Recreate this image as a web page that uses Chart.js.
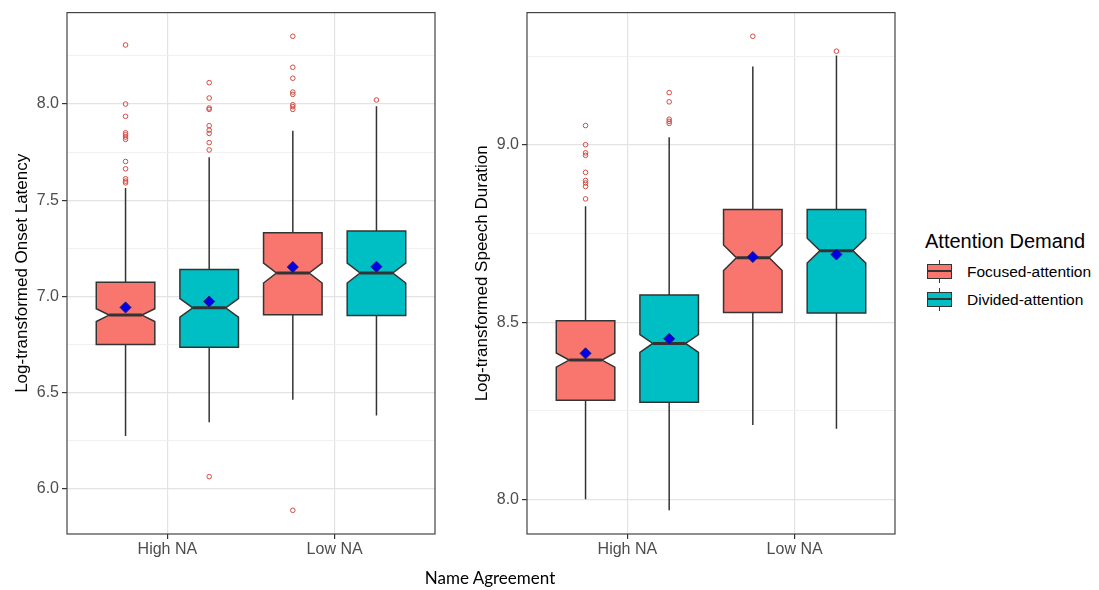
<!DOCTYPE html>
<html>
<head>
<meta charset="utf-8">
<script src="https://cdn.jsdelivr.net/npm/chart.js@4.4.1/dist/chart.umd.min.js"></script>
<style>
  html, body { margin: 0; padding: 0; background: #fff; }
  #wrap { position: relative; width: 1099px; height: 590px; overflow: hidden;
          font-family: "Liberation Sans", Arial, sans-serif; }
  canvas { position: absolute; top: 0; }
  #onset { left: 0; }
  #speech { left: 460px; }
  #xtitle { position: absolute; left: 370px; width: 240px; top: 567px; text-align: center;
            font-family: Lato, "Open Sans", sans-serif; font-size: 17px; line-height: 22px; color: #000; }
  #legend-title { position: absolute; left: 925px; top: 229px; font-size: 20px; line-height: 24px; color: #000; white-space: nowrap; }
  .key { position: absolute; left: 927px; width: 25px; height: 15px; box-sizing: border-box; border: 1.4px solid #333; }
  .key .med { position: absolute; left: 0; right: 0; top: 5.3px; height: 2px; background: #333; }
  .stub { position: absolute; left: 939px; width: 1.4px; height: 4px; background: #333; }
  .key-label { position: absolute; left: 967px; font-size: 15.5px; line-height: 18px; color: #000; white-space: nowrap; }
</style>
</head>
<body>
<div id="wrap">
  <canvas id="onset" width="445" height="590"></canvas>
  <canvas id="speech" width="445" height="590"></canvas>
  <div id="xtitle">Name Agreement</div>
  <div id="legend-title">Attention Demand</div>
</div>
<script>
// ---- data ----
const categories = ['High NA', 'Low NA'];
const groups = ['Focused-attention', 'Divided-attention'];
const groupColors = ['#F8766D', '#00BFC4'];

// Onset latency: [lower whisker, Q1, median, Q3, upper whisker] for each category
const onsetFocused = [[6.273, 6.749, 6.902, 7.073, 7.563], [6.462, 6.904, 7.121, 7.331, 7.861]];
const onsetDivided = [[6.345, 6.735, 6.940, 7.139, 7.723], [6.380, 6.900, 7.121, 7.340, 7.988]];
const onsetFocusedNotch = [0.033, 0.052];
const onsetDividedNotch = [0.048, 0.052];
const onsetFocusedMean = [6.942, 7.152];
const onsetDividedMean = [6.973, 7.154];
const onsetFocusedOutliers = [
  [8.307, 8.000, 7.936, 7.850, 7.840, 7.828, 7.816, 7.701, 7.663, 7.611, 7.599, 7.590],
  [8.352, 8.191, 8.134, 8.062, 8.050, 7.996, 7.986, 7.972, 5.887]
];
const onsetDividedOutliers = [
  [8.111, 8.031, 7.979, 7.972, 7.887, 7.864, 7.847, 7.799, 7.761, 6.062],
  [8.021]
];

// Speech duration: [lower whisker, Q1, median, Q3, upper whisker] for each category
const speechFocused = [[8.000, 8.280, 8.393, 8.504, 8.827], [8.210, 8.527, 8.682, 8.818, 9.222]];
const speechDivided = [[7.969, 8.274, 8.440, 8.577, 9.022], [8.199, 8.526, 8.702, 8.818, 9.253]];
const speechFocusedNotch = [0.020, 0.036];
const speechDividedNotch = [0.025, 0.035];
const speechFocusedMean = [8.412, 8.684];
const speechDividedMean = [8.453, 8.691];
const speechFocusedOutliers = [
  [9.055, 9.001, 8.978, 8.971, 8.923, 8.900, 8.893, 8.883, 8.848],
  [9.307]
];
const speechDividedOutliers = [
  [9.148, 9.122, 9.073, 9.067, 9.061],
  [9.265]
];

// ---- layout constants ----
const DODGE = [-0.25, 0.25];     // group offsets within a category
const BOX_WIDTH = 0.35;          // in category units
const NOTCH_DEPTH = 0.22;        // inward notch depth as a fraction of box width
const FONT = '"Liberation Sans", Arial, sans-serif';

const notchedBoxPlugin = {
  id: 'notchedBoxes',
  beforeDatasetsDraw(chart, args, opts) {
    const { ctx, chartArea, scales: { x, y } } = chart;
    ctx.save();
    ctx.beginPath();
    ctx.rect(chartArea.left, chartArea.top, chartArea.width, chartArea.height);
    ctx.clip();
    opts.boxes.forEach(b => {
      const cx = x.getPixelForValue(b.pos);
      const hw = Math.abs(x.getPixelForValue(b.pos + BOX_WIDTH / 2) - cx);
      const inner = hw * (1 - 2 * NOTCH_DEPTH);
      const [lo, q1, med, q3, hi] = b.stats.map(v => y.getPixelForValue(v));
      const nUp = y.getPixelForValue(b.stats[2] + b.notch);
      const nDn = y.getPixelForValue(b.stats[2] - b.notch);
      ctx.strokeStyle = '#333';
      ctx.lineWidth = 1.5;
      ctx.beginPath();
      ctx.moveTo(cx, q3); ctx.lineTo(cx, hi);
      ctx.moveTo(cx, q1); ctx.lineTo(cx, lo);
      ctx.stroke();
      ctx.beginPath();
      ctx.moveTo(cx - hw, q3); ctx.lineTo(cx + hw, q3);
      ctx.lineTo(cx + hw, nUp); ctx.lineTo(cx + inner, med); ctx.lineTo(cx + hw, nDn);
      ctx.lineTo(cx + hw, q1); ctx.lineTo(cx - hw, q1);
      ctx.lineTo(cx - hw, nDn); ctx.lineTo(cx - inner, med); ctx.lineTo(cx - hw, nUp);
      ctx.closePath();
      ctx.fillStyle = b.color;
      ctx.fill();
      ctx.lineWidth = 1.5;
      ctx.lineJoin = 'miter';
      ctx.stroke();
      ctx.lineWidth = 3;
      ctx.beginPath();
      ctx.moveTo(cx - inner, med); ctx.lineTo(cx + inner, med);
      ctx.stroke();
    });
    ctx.restore();
  },
  afterDatasetsDraw(chart) {
    const { ctx, chartArea } = chart;
    ctx.save();
    ctx.strokeStyle = '#444';
    ctx.lineWidth = 1.2;
    ctx.strokeRect(chartArea.left, chartArea.top, chartArea.width, chartArea.height);
    ctx.restore();
  }
};

const isMajor = v => Math.abs(v * 2 - Math.round(v * 2)) < 1e-6;

function makePanel(canvasId, yTitle, stats, notches, means, outliers) {
  const allValues = [];
  stats.forEach(g => g.forEach(s => allValues.push(s[0], s[4])));
  outliers.forEach(g => g.forEach(c => allValues.push(...c)));
  const lo = Math.min(...allValues), hi = Math.max(...allValues);
  const pad = (hi - lo) * 0.05;

  const boxes = [];
  stats.forEach((g, gi) => g.forEach((s, ci) => {
    boxes.push({ pos: ci + 1 + DODGE[gi], stats: s, notch: notches[gi][ci], color: groupColors[gi] });
  }));

  const datasets = [];
  means.forEach((g, gi) => datasets.push({
    label: groups[gi] + ' mean',
    data: g.map((m, ci) => ({ x: ci + 1 + DODGE[gi], y: m })),
    pointStyle: 'rectRot', pointRadius: 5.5,
    backgroundColor: '#0000e6', borderColor: '#1a1a70', borderWidth: 1
  }));
  outliers.forEach((g, gi) => datasets.push({
    label: groups[gi] + ' outliers',
    data: g.flatMap((vals, ci) => vals.map(v => ({ x: ci + 1 + DODGE[gi], y: v }))),
    pointStyle: 'circle', pointRadius: 2.3,
    backgroundColor: 'rgba(0,0,0,0)', borderColor: '#d24a44', borderWidth: 1
  }));

  return new Chart(document.getElementById(canvasId), {
    type: 'scatter',
    data: { datasets },
    plugins: [notchedBoxPlugin],
    options: {
      responsive: false,
      animation: false,
      events: [],
      layout: { padding: { top: 10, right: 10, left: 0, bottom: 0 } },
      plugins: {
        legend: { display: false },
        tooltip: { enabled: false },
        notchedBoxes: { boxes }
      },
      scales: {
        x: {
          type: 'linear', min: 0.4, max: 2.6,
          afterBuildTicks: s => { s.ticks = categories.map((c, i) => ({ value: i + 1 })); },
          afterFit: s => { s.height = 56; },
          border: { display: false },
          grid: { color: '#e3e3e3', lineWidth: 1.2, tickColor: '#333', tickLength: 5 },
          ticks: {
            autoSkip: false, maxRotation: 0, padding: 1,
            color: '#4d4d4d', font: { family: FONT, size: 16 },
            callback: v => categories[Math.round(v) - 1]
          }
        },
        y: {
          type: 'linear', min: lo - pad, max: hi + pad,
          afterBuildTicks: s => {
            const t = [];
            for (let v = Math.ceil(s.min * 4) / 4; v <= s.max + 1e-9; v += 0.25) t.push({ value: Math.round(v * 100) / 100 });
            s.ticks = t;
          },
          afterFit: s => { s.width = 67; },
          border: { display: false },
          grid: {
            color: c => (c.tick && isMajor(c.tick.value)) ? '#e3e3e3' : '#efefef',
            lineWidth: c => (c.tick && isMajor(c.tick.value)) ? 1.2 : 0.9,
            tickColor: c => (c.tick && isMajor(c.tick.value)) ? '#333' : 'rgba(0,0,0,0)',
            tickLength: 5
          },
          ticks: {
            autoSkip: false, padding: 3,
            color: '#4d4d4d', font: { family: FONT, size: 16 },
            callback: v => isMajor(v) ? v.toFixed(1) : ''
          },
          title: {
            display: true, text: yTitle, color: '#000',
            font: { family: FONT, size: 17 }, padding: { top: 12, bottom: 0 }
          }
        }
      }
    }
  });
}

makePanel('onset', 'Log-transformed Onset Latency',
  [onsetFocused, onsetDivided], [onsetFocusedNotch, onsetDividedNotch],
  [onsetFocusedMean, onsetDividedMean], [onsetFocusedOutliers, onsetDividedOutliers]);

makePanel('speech', 'Log-transformed Speech Duration',
  [speechFocused, speechDivided], [speechFocusedNotch, speechDividedNotch],
  [speechFocusedMean, speechDividedMean], [speechFocusedOutliers, speechDividedOutliers]);

// ---- legend ----
const wrap = document.getElementById('wrap');
groups.forEach((g, i) => {
  const cy = 271.5 + 28 * i;
  const key = document.createElement('div');
  key.className = 'key';
  key.style.top = (cy - 7.5) + 'px';
  key.style.background = groupColors[i];
  const med = document.createElement('div');
  med.className = 'med';
  key.appendChild(med);
  wrap.appendChild(key);
  [cy - 11.5, cy + 7.5].forEach(t => {
    const s = document.createElement('div');
    s.className = 'stub';
    s.style.top = t + 'px';
    wrap.appendChild(s);
  });
  const lab = document.createElement('div');
  lab.className = 'key-label';
  lab.style.top = (cy - 9) + 'px';
  lab.textContent = g;
  wrap.appendChild(lab);
});
</script>
</body>
</html>
